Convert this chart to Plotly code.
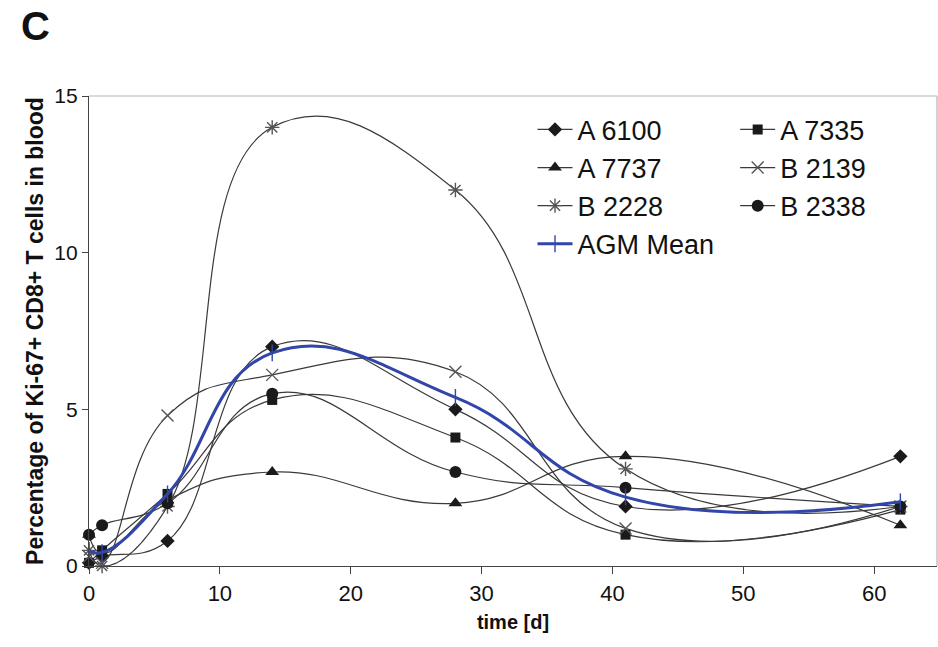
import plotly.graph_objects as go

days = [0, 1, 6, 14, 28, 41, 62]
a6100 = [0.1, 0.3, 0.8, 7.0, 5.0, 1.9, 3.5]
a7335 = [0.1, 0.5, 2.3, 5.3, 4.1, 1.0, 1.8]
a7737 = [1.0, 0.4, 2.1, 3.0, 2.0, 3.5, 1.3]
b2139 = [0.3, 0.1, 4.8, 6.1, 6.2, 1.2, 1.9]
b2228 = [0.5, 0.0, 1.9, 14.0, 12.0, 3.1, 1.9]
b2338 = [1.0, 1.3, 2.0, 5.5, 3.0, 2.5, 1.9]
agm_mean = [0.5, 0.43, 2.3, 6.8, 5.38, 2.2, 2.05]

x_ticks = [0, 10, 20, 30, 40, 50, 60]
y_ticks = [0, 5, 10, 15]

FONT = "Liberation Sans, Arial, sans-serif"
LINE = "#3a3a3a"
MK = "#1a1a1a"
GRAY = "#555555"
BLUE = "#3146a8"

fig = go.Figure()

def add(name, ys, symbol, size, color, legend, open_sym=False, lw=1.2, lc=LINE):
    marker = dict(symbol=symbol, size=size, color=color)
    if open_sym:
        marker["line"] = dict(color=color, width=1.4)
    fig.add_trace(go.Scatter(
        x=days, y=ys, name=name, mode="lines+markers",
        line=dict(color=lc, width=lw, shape="spline", smoothing=1.3),
        marker=marker, cliponaxis=False, legend=legend,
    ))

add("A 6100", a6100, "diamond", 11, MK, "legend")
add("A 7335", a7335, "square", 10, MK, "legend2")
add("A 7737", a7737, "triangle-up", 12, MK, "legend")
add("B 2139", b2139, "x-thin-open", 12, GRAY, "legend2", open_sym=True)
add("B 2228", b2228, "asterisk-open", 12, GRAY, "legend", open_sym=True)
add("B 2338", b2338, "circle", 12, MK, "legend2")
add("AGM Mean", agm_mean, "line-ns-open", 12, BLUE, "legend", open_sym=True, lw=3, lc=BLUE)

legend_common = dict(
    font=dict(family=FONT, size=27, color="#111111"),
    bgcolor="rgba(0,0,0,0)", borderwidth=0,
    itemwidth=35, xanchor="left", yanchor="top", orientation="v",
    traceorder="normal",
)

fig.update_layout(
    width=938, height=647,
    margin=dict(l=89, r=1, t=96, b=81),
    paper_bgcolor="white", plot_bgcolor="white",
    font=dict(family=FONT, color="#111111"),
    showlegend=True,
    legend=dict(x=0.523, y=0.98, **legend_common),
    legend2=dict(x=0.762, y=0.98, **legend_common),
    xaxis=dict(
        range=[0, 64.8], tickvals=x_ticks, ticktext=[str(v) for v in x_ticks],
        showgrid=False, zeroline=False, showline=True, linecolor="#444444", linewidth=1.2,
        ticks="outside", ticklen=7, tickcolor="#444444",
        tickfont=dict(family=FONT, size=22, color="#111111"),
        title=dict(text="<b>time [d]</b>", font=dict(family=FONT, size=20, color="#111111"), standoff=10),
    ),
    yaxis=dict(
        range=[0, 15], tickvals=y_ticks, ticktext=[str(v) for v in y_ticks],
        showgrid=False, zeroline=False, showline=True, linecolor="#444444", linewidth=1.2,
        ticks="outside", ticklen=6, tickcolor="#444444",
        tickfont=dict(family=FONT, size=21, color="#111111"),
        title=dict(text="<b>Percentage of Ki-67+ CD8+ T cells in blood</b>",
                   font=dict(family=FONT, size=23, color="#111111"), standoff=4),
    ),
    shapes=[
        dict(type="line", xref="paper", yref="paper", x0=0, x1=1, y0=1, y1=1,
             line=dict(color="#b5b5b5", width=1.2)),
        dict(type="line", xref="paper", yref="paper", x0=1, x1=1, y0=0, y1=1,
             line=dict(color="#b5b5b5", width=1.2)),
    ],
    annotations=[dict(
        text="<b>C</b>", xref="paper", yref="paper", x=-0.082, y=1.2,
        xanchor="left", yanchor="top", showarrow=False,
        font=dict(family=FONT, size=40, color="#111111"),
    )],
)

fig.write_html("out.html")
